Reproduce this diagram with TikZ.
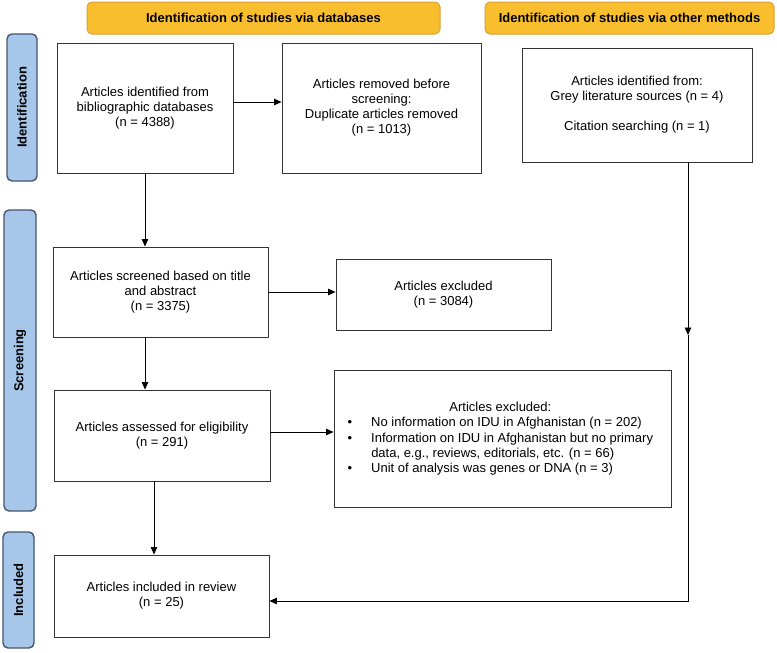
\documentclass[tikz,border=0pt]{standalone}
\usepackage{fontspec}
\setmainfont{Liberation Sans}
\usetikzlibrary{arrows.meta}
\definecolor{hdrfill}{HTML}{F8BE2E}
\definecolor{hdrdraw}{HTML}{D7A13A}
\definecolor{sidefill}{HTML}{A6C6EA}
\definecolor{sidedraw}{HTML}{44556E}
\definecolor{boxline}{HTML}{333333}
\begin{document}
\begin{tikzpicture}[x=1pt,y=-1pt,
  txt/.style={font=\fontsize{13}{15}\selectfont},
  box/.style={txt, draw=boxline, line width=0.9pt, fill=white, inner sep=0pt, align=center},
  hdr/.style={draw=hdrdraw, fill=hdrfill, line width=1pt, rounded corners=5pt, inner sep=0pt, font=\fontsize{13}{15}\selectfont\bfseries},
  side/.style={draw=sidedraw, fill=sidefill, line width=1.4pt, rounded corners=5pt, inner sep=0pt, font=\fontsize{13}{15}\selectfont\bfseries},
  arr/.style={draw=black, line width=0.8pt, -{Triangle[length=7.5pt,width=6.5pt]}},
]
\useasboundingbox (0,0) rectangle (777,653);

% headers
\node[hdr, minimum width=353, minimum height=32] (h1) at (263.5,18) {Identification of studies via databases};
\node[hdr, minimum width=289, minimum height=32] (h2) at (629.5,18) {Identification of studies via other methods};

% side labels
\node[side, rotate=90, minimum width=147, minimum height=30] (sid) at (22,107.5) {Identification};
\node[side, rotate=90, minimum width=301, minimum height=32] (ssc) at (20,360.5) {Screening};
\node[side, rotate=90, minimum width=116, minimum height=31] (sin) at (18.5,590) {Included};

% boxes
\node[box, minimum width=176, minimum height=130] (b1) at (145,108)
  {Articles identified from\\bibliographic databases\\(n = 4388)};
\node[box, minimum width=199, minimum height=130] (b2) at (381.5,108)
  {Articles removed before\\screening:\\Duplicate articles removed\\(n = 1013)};
\node[box, minimum width=230, minimum height=114] (b3) at (637,105)
  {Articles identified from:\\Grey literature sources (n = 4)\\[15pt]Citation searching (n = 1)};
\node[box, minimum width=215, minimum height=90] (scr) at (160.5,292)
  {Articles screened based on title\\and abstract\\(n = 3375)};
\node[box, minimum width=215, minimum height=71] (ex1) at (443.5,294.5)
  {Articles excluded\\(n = 3084)};
\node[box, minimum width=216, minimum height=91] (asm) at (162,435.5)
  {Articles assessed for eligibility\\(n = 291)};
\node[box, minimum width=337, minimum height=137] (ex2) at (502.5,438.5) {};
\node[txt, anchor=west, inner sep=0pt] (ex2t) at (347.5,439)
  {\fontsize{13}{15.4}\selectfont\begin{tabular}{@{}c@{\hspace{19pt}}l@{}}
   \multicolumn{2}{c}{Articles excluded:}\\
   \textbullet & No information on IDU in Afghanistan (n = 202)\\
   \textbullet & Information on IDU in Afghanistan but no primary\\
               & data, e.g., reviews, editorials, etc. (n = 66)\\
   \textbullet & Unit of analysis was genes or DNA (n = 3)
   \end{tabular}};
\node[box, minimum width=215, minimum height=82] (inc) at (161.5,596)
  {Articles included in review\\(n = 25)};

% helper coordinates
\coordinate (yA) at (0,102);
\coordinate (yB) at (0,432);
\coordinate (xC) at (154,0);
\coordinate (mid) at (688,335);
\coordinate (corner) at (688,601);

% connectors
\draw[arr] (b1.east |- yA) -- (b2.west |- yA);
\draw[arr] (b1.south) -- (b1.south |- scr.north);
\draw[arr] (scr.south -| b1.south) -- (asm.north -| b1.south);
\draw[arr] (scr.east) -- (ex1.west |- scr.east);
\draw[arr] (asm.east |- yB) -- (ex2.west |- yB);
\draw[arr] (asm.south -| xC) -- (inc.north -| xC);
\draw[arr] (b3.south -| mid) -- (mid);
\draw[arr] (mid) -- (corner) -- (inc.east |- corner);
\end{tikzpicture}
\end{document}
